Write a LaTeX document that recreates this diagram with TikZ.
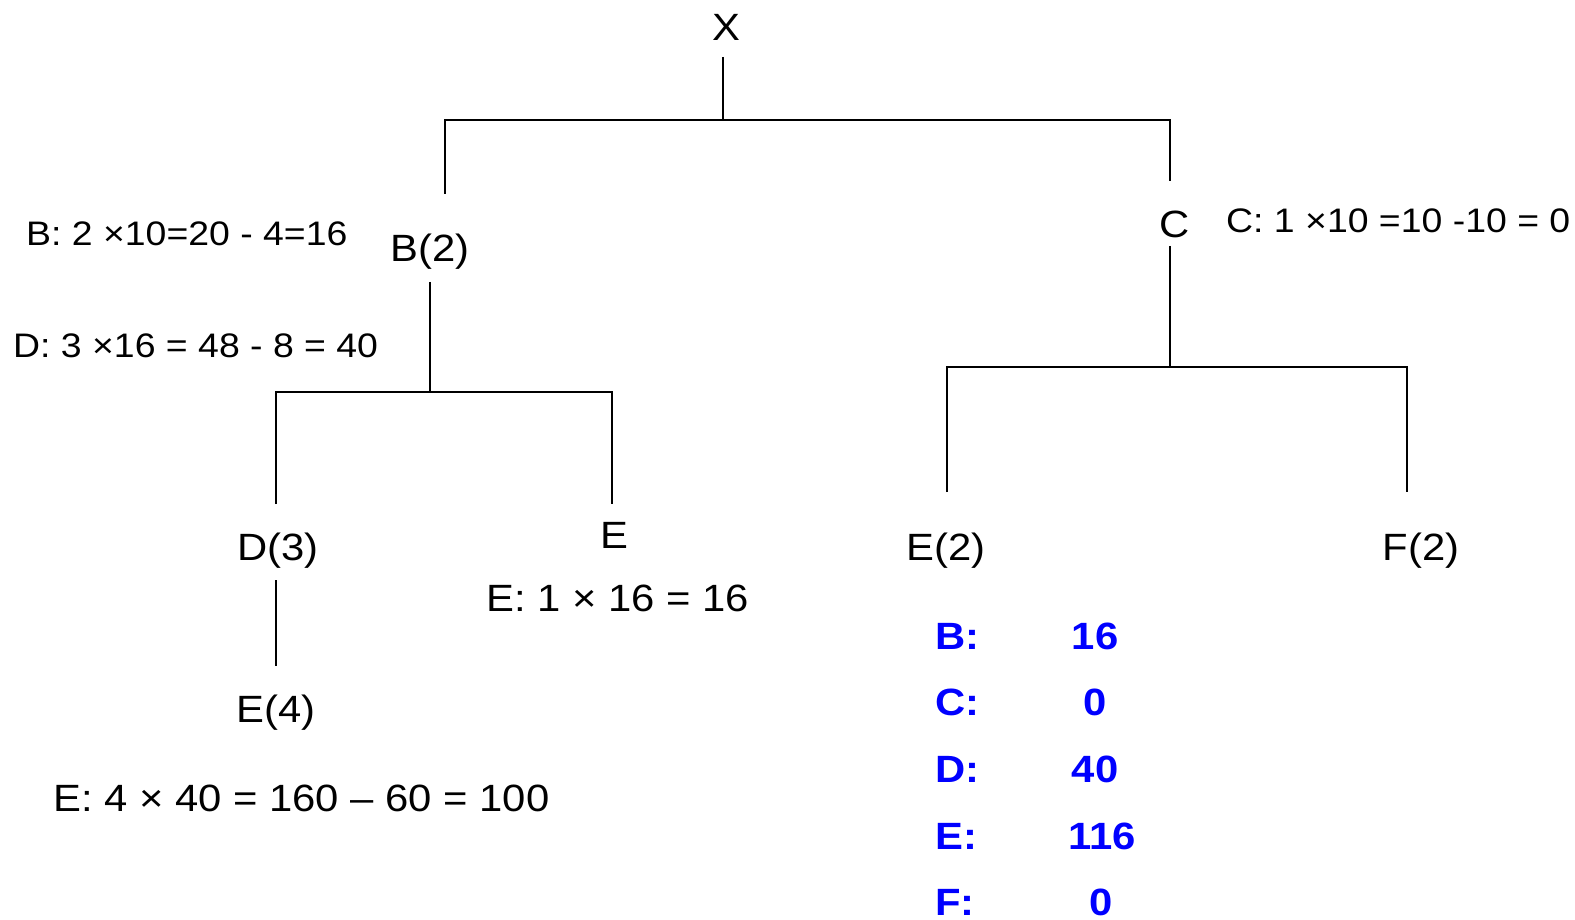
\documentclass[tikz,border=0pt]{standalone}
\usepackage{fontspec}
\setmainfont[FakeStretch=1.1]{Liberation Sans}
\begin{document}
\begin{tikzpicture}[x=1pt,y=-1pt,
  lbl/.style={inner sep=0pt, font=\fontsize{38}{44}\selectfont},
  eq/.style={inner sep=0pt, anchor=west, font=\fontsize{34}{40}\selectfont},
  eqb/.style={inner sep=0pt, anchor=west, font=\fontsize{38}{44}\selectfont},
  res/.style={inner sep=0pt, text=blue, font=\fontsize{38}{44}\selectfont\bfseries},
  conn/.style={line width=1.4pt, black}]
\useasboundingbox (0,0) rectangle (1575,920);
% tree nodes
\node[lbl] (X) at (726,27) {X};
\node[lbl] (B) at (430,252) {B(2)};
\node[lbl] (C) at (1175,224) {C};
\node[lbl] (D) at (278,551) {D(3)};
\node[lbl] (E) at (614,535) {E};
\node[lbl] (E4) at (276,713) {E(4)};
\node[lbl] (E2) at (946,551) {E(2)};
\node[lbl] (F2) at (1421,551) {F(2)};
% annotations
\node[eq] (eqB) at (26,234) {B: 2 ×10=20 - 4=16};
\node[eq] (eqD) at (13,346) {D: 3 ×16 = 48 - 8 = 40};
\node[eq] (eqC) at (1226,221) {C: 1 ×10 =10 -10 = 0};
\node[eqb] (eqE1) at (486,598) {E: 1 × 16 = 16};
\node[eqb] (eqE4) at (53,798) {E: 4 × 40 = 160 – 60 = 100};
% results table
\node[res, anchor=west] (rB) at (935,636) {B:};
\node[res, anchor=west] (rC) at (935,702) {C:};
\node[res, anchor=west] (rD) at (935,769) {D:};
\node[res, anchor=west] (rE) at (935,836) {E:};
\node[res, anchor=west] (rF) at (935,902) {F:};
\node[res] (vB) at (1095,636) {16};
\node[res] (vC) at (1095,702) {0};
\node[res] (vD) at (1095,769) {40};
\node[res] (vE) at (1102,836) {116};
\node[res] (vF) at (1101,902) {0};
% connector end points
\coordinate (Xb) at (723,57);
\coordinate (Xj) at (723,120);
\coordinate (Bt) at (445,194);
\coordinate (Ct) at (1170,181);
\coordinate (Bb) at (430,282);
\coordinate (Bj) at (430,392);
\coordinate (Dt) at (276,504);
\coordinate (Et) at (612,504);
\coordinate (Db) at (276,580);
\coordinate (E4t) at (276,666);
\coordinate (Cb) at (1170,246);
\coordinate (Cj) at (1170,367);
\coordinate (E2t) at (947,492);
\coordinate (F2t) at (1407,492);
% connectors
\draw[conn] (Xb) -- (Xj);
\draw[conn] (Bt) |- (Xj) -| (Ct);
\draw[conn] (Bb) -- (Bj);
\draw[conn] (Dt) |- (Bj) -| (Et);
\draw[conn] (Db) -- (E4t);
\draw[conn] (Cb) -- (Cj);
\draw[conn] (E2t) |- (Cj) -| (F2t);
\end{tikzpicture}
\end{document}
